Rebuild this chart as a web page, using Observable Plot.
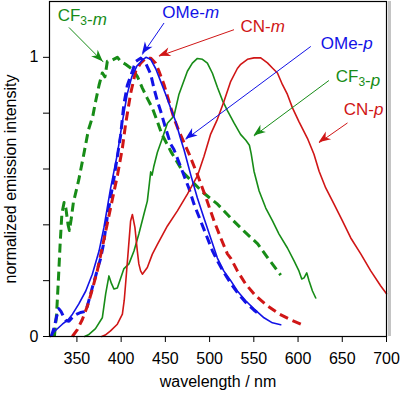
<!DOCTYPE html>
<html>
<head>
<meta charset="utf-8">
<script src="https://cdn.jsdelivr.net/npm/d3@7"></script>
<script src="https://cdn.jsdelivr.net/npm/@observablehq/plot@0.6"></script>
<style>
  body { margin: 0; background: #fff; }
</style>
</head>
<body>
<div id="chart"></div>
<script>
// Normalized emission spectra, [wavelength (nm), intensity]
const cf3m = [[324.5,0],[327,0.08],[329,0.2],[331,0.33],[333,0.44],[335.5,0.48],[337.5,0.46],[340,0.4],[341.5,0.38],[343.5,0.42],[346,0.48],[349,0.52],[352,0.56],[357.6,0.65],[363,0.74],[368,0.79],[371,0.84],[375,0.9],[378.7,0.944],[381.7,0.93],[384.4,0.986],[390,0.99],[395.7,1.0],[399.4,0.986],[405,0.975],[412.7,0.957],[418.3,0.932],[424,0.89],[429.6,0.853],[435.3,0.818],[441,0.77],[446,0.725],[456,0.664],[470.7,0.585],[482,0.55],[493.3,0.514],[509,0.474],[524,0.424],[538.6,0.378],[554.4,0.332],[565.7,0.282],[580.4,0.22]];
const cf3p = [[358.7,0],[363,0.006],[371,0.028],[378.7,0.067],[382.5,0.153],[386.2,0.217],[389,0.19],[391.9,0.17],[395.7,0.174],[403,0.242],[408.8,0.26],[414.5,0.306],[420,0.367],[425.8,0.439],[429.6,0.485],[432,0.55],[433.4,0.59],[435,0.578],[437,0.61],[441,0.66],[446.6,0.71],[452.3,0.764],[459.7,0.79],[465.4,0.868],[474.9,0.95],[480.5,0.979],[486.2,0.996],[491.9,0.993],[497.5,0.979],[503.2,0.943],[508.8,0.893],[514.5,0.846],[520,0.81],[527.6,0.765],[535,0.724],[541,0.703],[545,0.685],[547,0.655],[550.2,0.592],[556,0.521],[563.5,0.46],[571,0.415],[578.5,0.367],[588,0.317],[595.5,0.271],[601,0.235],[604.2,0.206],[606.8,0.21],[609.8,0.228],[612.4,0.2],[616.3,0.163],[620,0.138]];
const omep = [[320,0],[322,0.01],[327,0.025],[333.5,0.044],[340,0.06],[345,0.08],[352,0.116],[360,0.163],[367.4,0.223],[375,0.306],[380.5,0.39],[388,0.53],[395.7,0.653],[401.4,0.77],[407,0.87],[412,0.93],[418,0.97],[424,0.99],[428,1.0],[433.4,0.993],[439,0.96],[444.7,0.914],[450.3,0.868],[456,0.818],[461.6,0.771],[467,0.71],[471,0.67],[478.6,0.58],[486.2,0.496],[493.7,0.424],[501.2,0.353],[508.8,0.281],[516,0.235],[523.9,0.2],[531.4,0.163],[540.8,0.128],[550.2,0.099],[561.5,0.067],[571,0.049],[580.4,0.042]];
const omem = [[321,0],[324,0.03],[327,0.07],[329.5,0.1],[332,0.09],[335,0.07],[338,0.056],[341,0.055],[346.6,0.074],[350,0.08],[354,0.086],[360,0.09],[363.6,0.13],[367.4,0.175],[371,0.215],[376.8,0.28],[380,0.33],[384.4,0.43],[391.9,0.567],[399.4,0.72],[403,0.83],[407,0.9],[412.7,0.95],[416.4,0.985],[422,0.997],[427.7,0.979],[433.4,0.94],[437,0.89],[441,0.843],[444.7,0.807],[450.3,0.746],[456,0.689],[459.7,0.67],[469.2,0.592],[476.7,0.53],[482.4,0.474],[490,0.413],[497.5,0.353],[503.2,0.307],[508.8,0.271],[516,0.23],[524,0.19],[532,0.155],[540,0.125],[550,0.095],[558,0.075]];
const cnm = [[344.8,0],[350.5,0.025],[356,0.06],[362,0.11],[367.5,0.17],[373,0.235],[378.7,0.32],[384.4,0.405],[390,0.49],[396,0.58],[401.4,0.675],[405,0.76],[410.7,0.87],[416.4,0.95],[422,0.979],[427.7,0.997],[433.4,0.997],[439,0.979],[442.8,0.95],[448.4,0.903],[454,0.843],[459.7,0.782],[465.4,0.735],[471,0.695],[476.7,0.655],[486.2,0.58],[495.6,0.5],[505,0.414],[512.6,0.353],[520.1,0.296],[524,0.28],[531.4,0.235],[540.8,0.188],[552,0.146],[565.4,0.11],[578.5,0.081],[591.7,0.06],[605,0.042]];
const cnp = [[378,0],[382,0.005],[388,0.02],[395.7,0.044],[401.4,0.08],[403.5,0.13],[405,0.187],[408,0.306],[410.7,0.414],[412.7,0.437],[415.6,0.39],[418.3,0.306],[420,0.26],[422,0.235],[424,0.223],[429.6,0.247],[435.3,0.295],[441,0.33],[452.3,0.396],[463.6,0.45],[474.9,0.51],[486.2,0.575],[493.7,0.646],[501.2,0.725],[508.8,0.778],[516.3,0.843],[523.9,0.914],[531.4,0.96],[535.2,0.975],[542.8,0.993],[550.2,0.998],[557.8,0.998],[565.4,0.98],[571,0.962],[576.7,0.944],[582.4,0.902],[588,0.867],[593.7,0.819],[601,0.77],[610.6,0.71],[618,0.653],[623.8,0.592],[631.3,0.532],[640.7,0.474],[650.2,0.414],[659.6,0.353],[670.9,0.296],[682.2,0.235],[693.5,0.181],[700,0.153]];

// Series labels with their callout arrows (data coordinates)
const labelNames = ["CF3-m", "OMe-m", "CN-m", "OMe-p", "CF3-p", "CN-p"];
const green = "#178c17", blue = "#1212e6", red = "#d01616";
const labelColors = [green, blue, red, blue, green, red];
const labelWl = [328.2, 446.6, 535, 625.7, 642.6, 651.7];
const labelInt = [1.148, 1.159, 1.111, 1.049, 0.93, 0.814];
const arrowFromWl = [341, 448.5, 527.6, 614.4, 634.9, 655.9];
const arrowFromInt = [1.107, 1.123, 1.099, 1.039, 0.917, 0.765];
const arrowToWl = [379.9, 424, 442.8, 473, 550.2, 623.8];
const arrowToInt = [0.983, 1.01, 1.004, 0.706, 0.718, 0.694];

// Axes
const xTicks = [350, 400, 450, 500, 550, 600, 650, 700];
const yTicks = [0, 0.2, 0.4, 0.6, 0.8, 1];
const yLabelled = [0, 1];
const xTitle = "wavelength / nm";
const yTitle = "normalized emission intensity";

const labels = labelNames.map((name, i) => ({
  name, color: labelColors[i], x: labelWl[i], y: labelInt[i],
  x1: arrowFromWl[i], y1: arrowFromInt[i], x2: arrowToWl[i], y2: arrowToInt[i]
}));

const wl = d => d[0], val = d => d[1];
const dashed = {strokeWidth: 3, strokeDasharray: "9,5", strokeLinecap: "butt"};
const solid = {strokeWidth: 1.6};

const chart = Plot.plot({
  width: 400,
  height: 394,
  marginLeft: 49,
  marginRight: 14,
  marginTop: 1,
  marginBottom: 58,
  style: {fontFamily: "'Liberation Sans', Arial, Helvetica, sans-serif", fontSize: "16px", color: "#000", background: "#fff"},
  x: {domain: [319, 700], ticks: xTicks, tickSize: 6, tickPadding: 10, label: null},
  y: {domain: [0, 1.2], ticks: yTicks, tickSize: 6, tickPadding: 5, label: null,
      tickFormat: d => yLabelled.some(t => Math.abs(t - d) < 1e-9) ? String(Math.round(d)) : ""},
  marks: [
    Plot.ruleX([700], {dx: 3, stroke: "#c4c4c4", strokeWidth: 3}),
    Plot.line(cf3m, {x: wl, y: val, stroke: green, ...dashed}),
    Plot.line(omem, {x: wl, y: val, stroke: blue, ...dashed}),
    Plot.line(cnm, {x: wl, y: val, stroke: red, ...dashed}),
    Plot.line(cf3p, {x: wl, y: val, stroke: green, ...solid}),
    Plot.line(cnp, {x: wl, y: val, stroke: red, ...solid}),
    Plot.line(omep, {x: wl, y: val, stroke: blue, ...solid}),
    Plot.link(labels, {x1: "x1", y1: "y1", x2: "x2", y2: "y2", stroke: "color", strokeWidth: 1}),
    Plot.text(labels, {x: "x", y: "y", text: "name", fill: "color", textAnchor: "start", fontSize: 17}),
    Plot.text([xTitle], {frameAnchor: "bottom", textAnchor: "middle", dy: 50, fontSize: 16}),
    Plot.text([yTitle], {frameAnchor: "left", textAnchor: "middle", rotate: -90, dx: -39, dy: 10, fontSize: 16}),
    Plot.frame({stroke: "#000", strokeWidth: 1.2})
  ]
});

// Filled arrowheads at the tips of the callout links
const sx = chart.scale("x"), sy = chart.scale("y");
const fx = sx.apply ? v => sx.apply(v) : d3.scaleLinear(sx.domain, sx.range);
const fy = sy.apply ? v => sy.apply(v) : d3.scaleLinear(sy.domain, sy.range);
const heads = d3.select(chart).append("g").attr("class", "arrowheads");
labels.forEach(d => {
  const x0 = fx(d.x1), y0 = fy(d.y1), x1 = fx(d.x2), y1 = fy(d.y2);
  const a = Math.atan2(y1 - y0, x1 - x0), c = Math.cos(a), s = Math.sin(a);
  const pts = [[0, 0], [-12, -4.6], [-8.5, 0], [-12, 4.6]]
    .map(([u, v]) => [x1 + u * c - v * s, y1 + u * s + v * c].map(n => n.toFixed(2)).join(","));
  heads.append("path").attr("d", "M" + pts.join("L") + "Z").attr("fill", d.color);
});

// Subscript digits and italic suffix in the series labels (e.g. CF3-m)
d3.select(chart).selectAll("text").each(function () {
  const t = this.textContent;
  if (!labelNames.includes(t)) return;
  const [stem, suffix] = t.split("-");
  const el = d3.select(this).text("");
  stem.split(/(\d+)/).filter(p => p).forEach(p => {
    if (/^\d+$/.test(p)) {
      el.append("tspan").attr("dy", "0.3em").attr("font-size", "12px").text(p);
      el.append("tspan").attr("dy", "-0.3em").text("");
    } else {
      el.append("tspan").text(p);
    }
  });
  el.append("tspan").text("-");
  el.append("tspan").attr("font-style", "italic").text(suffix);
});

document.getElementById("chart").appendChild(chart);
</script>
</body>
</html>
